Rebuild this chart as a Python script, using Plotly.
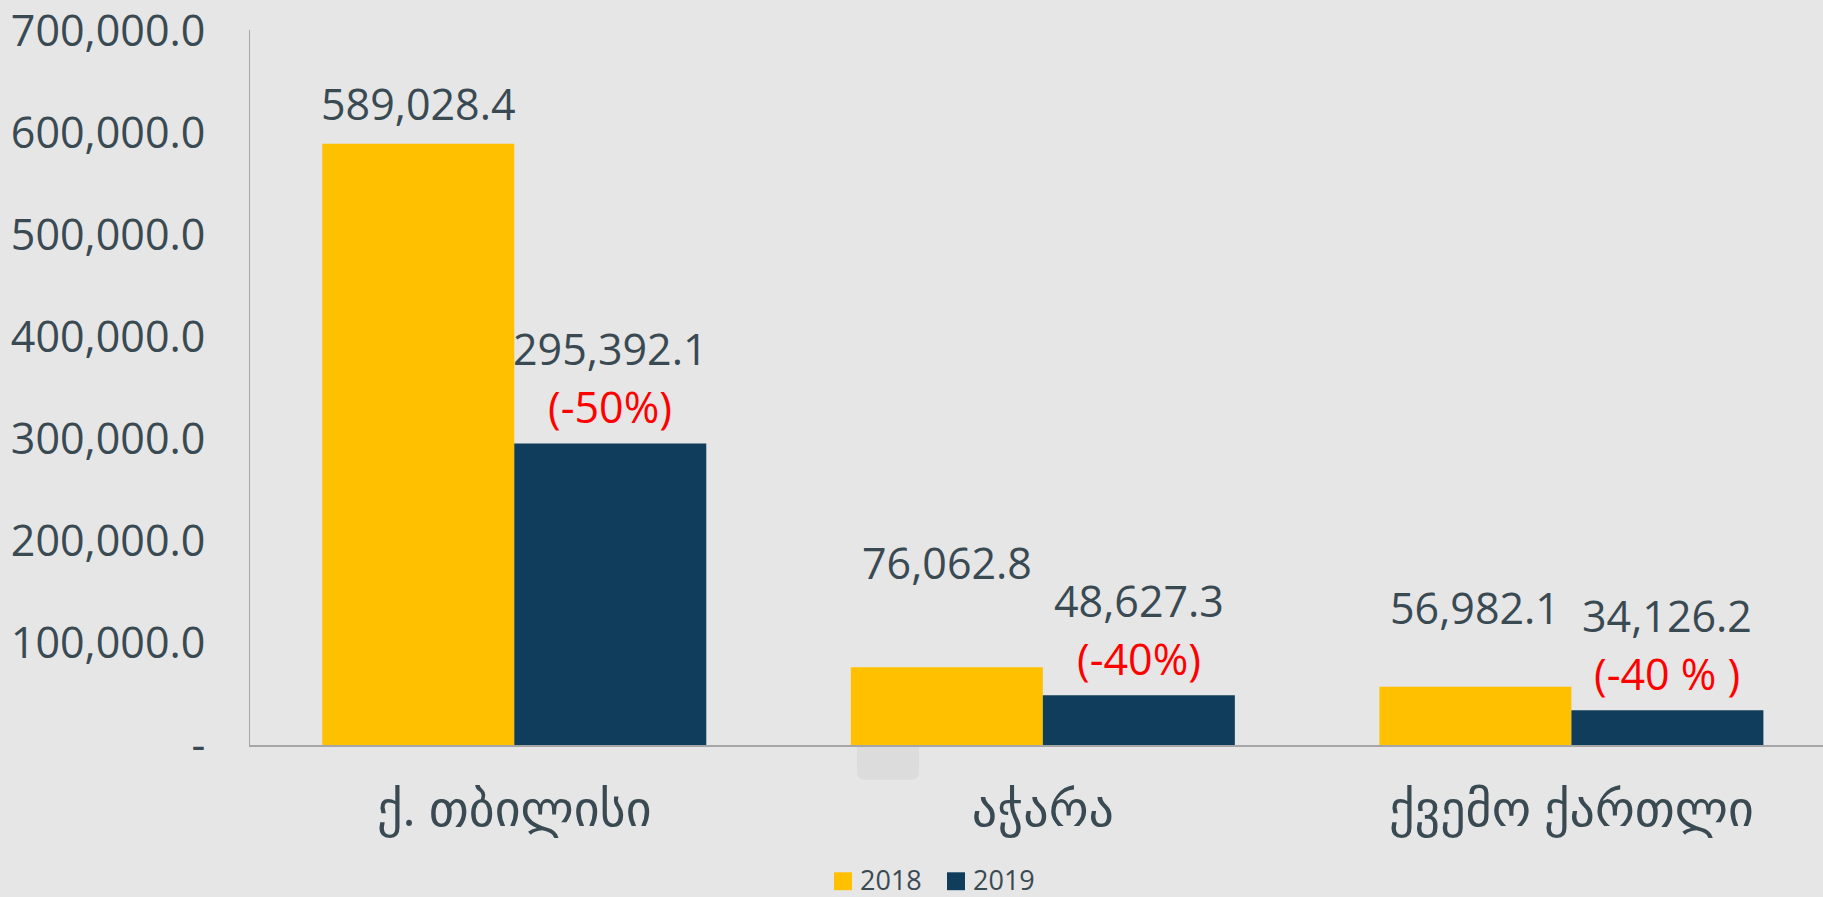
import plotly.graph_objects as go

categories = ["ქ. თბილისი", "აჭარა", "ქვემო ქართლი"]
values_2018 = [589028.4, 76062.8, 56982.1]
values_2019 = [295392.1, 48627.3, 34126.2]
change_labels = ["(-50%)", "(-40%)", "(-40 % )"]
series_names = ["2018", "2019"]
tick_vals = [0, 100000, 200000, 300000, 400000, 500000, 600000, 700000]
tick_text = ["-", "100,000.0", "200,000.0", "300,000.0", "400,000.0",
             "500,000.0", "600,000.0", "700,000.0"]

# label placement (pixels above bar top), kept separate from data
offset_2018 = [40, 105, 79]
offset_2019_value = 95
offset_2019_change = 37

YELLOW = "#FFC000"
BLUE = "#0F3D5B"
TEXT = "#3A4A53"
BG = "#E6E6E6"
FONT = "Open Sans, DejaVu Sans, sans-serif"
colors = [YELLOW, BLUE]

BARGAP = 0.2735
half = (1 - BARGAP) / 4  # center offset of each bar within group

fig = go.Figure()
fig.add_trace(go.Bar(name=series_names[0], x=categories, y=values_2018,
                     marker=dict(color=YELLOW, line=dict(width=0))))
fig.add_trace(go.Bar(name=series_names[1], x=categories, y=values_2019,
                     marker=dict(color=BLUE, line=dict(width=0))))

annotations = []
for i, v in enumerate(values_2018):
    annotations.append(dict(x=i - half, y=v, xref="x", yref="y",
                            text=f"{v:,.1f}", showarrow=False,
                            yanchor="middle", yshift=offset_2018[i],
                            font=dict(size=43, color=TEXT, family=FONT)))
for i, v in enumerate(values_2019):
    annotations.append(dict(x=i + half, y=v, xref="x", yref="y",
                            text=f"{v:,.1f}", showarrow=False,
                            yanchor="middle", yshift=offset_2019_value,
                            font=dict(size=43, color=TEXT, family=FONT)))
    annotations.append(dict(x=i + half, y=v, xref="x", yref="y",
                            text=change_labels[i], showarrow=False,
                            yanchor="middle", yshift=offset_2019_change,
                            font=dict(size=43, color="#FF0000", family=FONT)))

# manual legend (paper coordinates)
PLOT_L, PLOT_W, PLOT_B, PLOT_H = 250, 1573, 745, 719
def px_x(p):
    return (p - PLOT_L) / PLOT_W
def px_y(p):
    return -(p - PLOT_B) / PLOT_H

shapes = []
legend_square_left = [834, 947]
legend_text_left = [859, 972]
for k, name in enumerate(series_names):
    shapes.append(dict(type="rect", xref="paper", yref="paper",
                       x0=px_x(legend_square_left[k]), x1=px_x(legend_square_left[k] + 18),
                       y0=px_y(891), y1=px_y(873),
                       fillcolor=colors[k], line=dict(width=0)))
    annotations.append(dict(x=px_x(legend_text_left[k]), y=px_y(880),
                            xref="paper", yref="paper", text=name,
                            showarrow=False, xanchor="left", yanchor="middle",
                            borderpad=0,
                            font=dict(size=27, color=TEXT, family=FONT)))

# faint rounded artifact below the second category
x0, x1, y0, y1 = px_x(857), px_x(919), px_y(780), 0.0
rx, ry = 8 / PLOT_W, 8 / PLOT_H
path = (f"M {x0},{y1} L {x1},{y1} L {x1},{y0+ry} "
        f"Q {x1},{y0} {x1-rx},{y0} L {x0+rx},{y0} "
        f"Q {x0},{y0} {x0},{y0+ry} Z")
shapes.append(dict(type="path", path=path, xref="paper", yref="paper",
                   fillcolor="#DCDCDC", line=dict(width=0), layer="below"))

fig.update_layout(
    width=1823, height=897,
    paper_bgcolor=BG, plot_bgcolor=BG,
    margin=dict(l=250, r=0, t=26, b=152),
    barmode="group", bargap=BARGAP, bargroupgap=0,
    font=dict(family=FONT, color=TEXT),
    showlegend=False,
    annotations=annotations,
    shapes=shapes,
    xaxis=dict(range=[-0.5, 2.476], showgrid=False, zeroline=False,
               showline=True, linecolor="#A6A6A6", linewidth=2,
               ticks="", tickfont=dict(size=50, color=TEXT),
               ticklabelstandoff=19, fixedrange=True),
    yaxis=dict(range=[0, 700500], tickvals=tick_vals, ticktext=tick_text,
               showgrid=False, zeroline=False, showline=True,
               linecolor="#A6A6A6", linewidth=1, ticks="",
               tickfont=dict(size=43, color=TEXT),
               ticklabeloverflow="allow",
               ticklabelstandoff=35, fixedrange=True),
)

fig.write_html("out.html", config={"displayModeBar": False},
               post_script="document.body.style.margin='0';document.body.style.background='#E6E6E6';")
